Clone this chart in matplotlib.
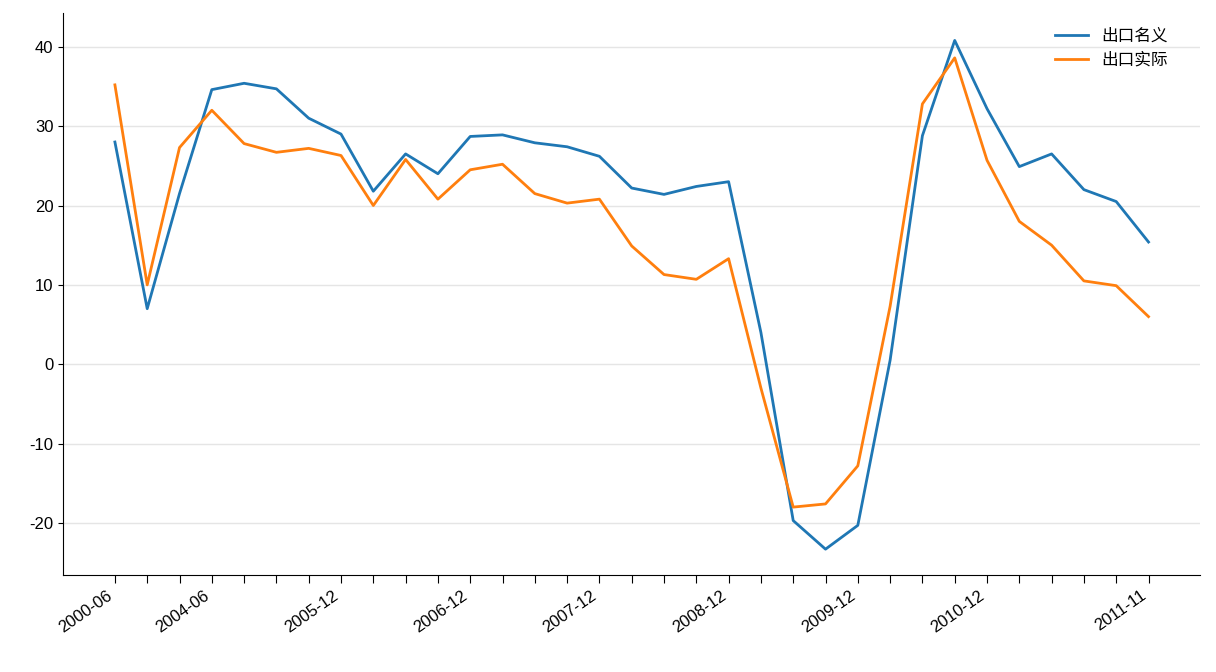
import matplotlib.pyplot as plt

plt.rcParams['font.family'] = ['Liberation Sans', 'Noto Sans CJK SC', 'DejaVu Sans']
plt.rcParams['axes.unicode_minus'] = False

nominal = [28, 7, 21.5, 34.6, 35.4, 34.7, 31, 29, 21.8, 26.5, 24, 28.7, 28.9, 27.9, 27.4, 26.2,
           22.2, 21.4, 22.4, 23, 4, -19.7, -23.3, -20.3, 0.5, 28.8, 40.8, 32.2, 24.9, 26.5, 22, 20.5, 15.4]
real = [35.2, 10, 27.3, 32, 27.8, 26.7, 27.2, 26.3, 20, 25.8, 20.8, 24.5, 25.2, 21.5, 20.3, 20.8,
        14.9, 11.3, 10.7, 13.3, -3, -18, -17.6, -12.8, 7.3, 32.8, 38.6, 25.7, 18, 15, 10.5, 9.9, 6]
tick_labels = {0: '2000-06', 3: '2004-06', 7: '2005-12', 11: '2006-12', 15: '2007-12',
               19: '2008-12', 23: '2009-12', 27: '2010-12', 32: '2011-11'}

x = list(range(len(nominal)))
fig = plt.figure(figsize=(12.16, 6.72), dpi=100)
ax = fig.add_axes([0.052, 0.145, 0.935, 0.835])
ax.plot(x, nominal, color='#1f77b4', lw=2, label='出口名义')
ax.plot(x, real, color='#ff7f0e', lw=2, label='出口实际')
ax.set_xticks(x)
ax.set_xticklabels([tick_labels.get(i, '') for i in x], rotation=35, ha='right', fontsize=12)
ax.set_xlim(-1.6, 33.6)
ax.set_ylim(-26.5, 44.2)
ax.set_yticks([-20, -10, 0, 10, 20, 30, 40])
ax.tick_params(axis='y', labelsize=12)
ax.tick_params(axis='x', length=6)
ax.grid(axis='y', color='#e5e5e5', lw=1)
ax.set_axisbelow(True)
for s in ['top', 'right']:
    ax.spines[s].set_visible(False)
ax.legend(frameon=False, fontsize=12, loc='upper right', bbox_to_anchor=(0.985, 1.0))
fig.savefig('out.png', dpi=100)
